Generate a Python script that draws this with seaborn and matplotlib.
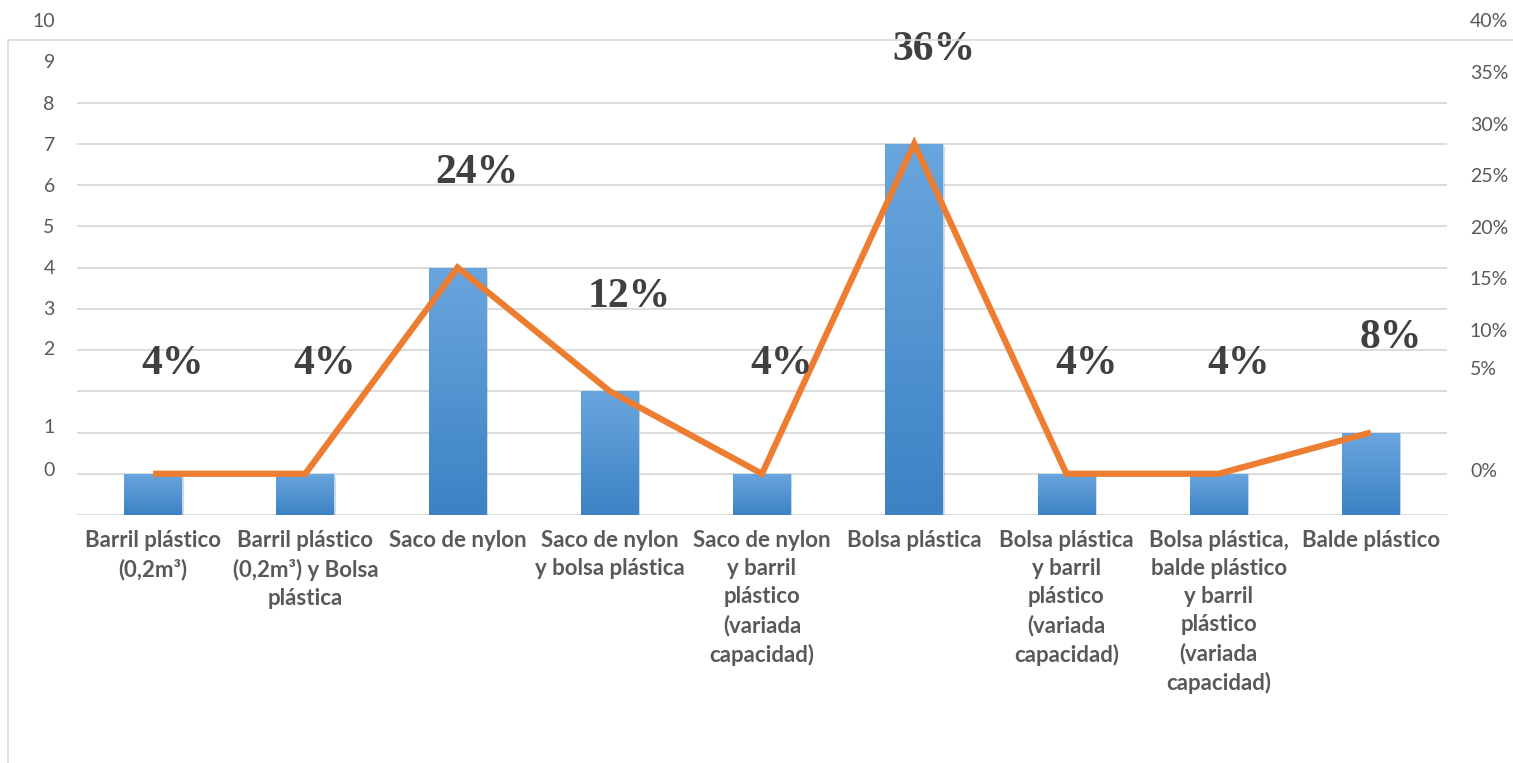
import numpy as np
import pandas as pd
import matplotlib
matplotlib.use("Agg")
import matplotlib.pyplot as plt
from matplotlib.patches import Rectangle
import seaborn as sns

# Chart data
categories = [
    "Barril plástico\n(0,2m³)",
    "Barril plástico\n(0,2m³) y Bolsa\nplástica",
    "Saco de nylon",
    "Saco de nylon\ny bolsa plástica",
    "Saco de nylon\ny barril\nplástico\n(variada\ncapacidad)",
    "Bolsa plástica",
    "Bolsa plástica\ny barril\nplástico\n(variada\ncapacidad)",
    "Bolsa plástica,\nbalde plástico\ny barril\nplástico\n(variada\ncapacidad)",
    "Balde plástico",
]
counts = [1, 1, 6, 3, 1, 9, 1, 1, 2]
pct_labels = ["4%", "4%", "24%", "12%", "4%", "36%", "4%", "4%", "8%"]

# axis tick labels as they appear in the picture
left_tick_pos = [1.12, 2.15, 4.05, 5.02, 6, 7, 8, 9, 10, 11, 12]
left_tick_labels = ["0", "1", "2", "3", "4", "5", "6", "7", "8", "9", "10"]
right_tick_pos = [1.09, 3.57, 4.49, 5.75, 6.99, 8.25, 9.49, 10.75, 11.99]
right_tick_labels = ["0%", "5%", "10%", "15%", "20%", "25%", "30%", "35%", "40%"]

df = pd.DataFrame({"cat": categories, "count": counts})

sns.set_style("white")
plt.rcParams["font.family"] = ["Lato", "DejaVu Sans"]

W, H = 1513, 763
fig = plt.figure(figsize=(W / 100, H / 100), dpi=100)
ax = fig.add_axes([77 / W, (H - 515) / H, (1447 - 77) / W, 495 / H])

grid_col = "#D9D9D9"
text_col = "#595959"

# outer frame
fig.add_artist(Rectangle((8 / W, -0.05), 1.2, (H - 40) / H + 0.05,
                         transform=fig.transFigure, fill=False,
                         edgecolor=grid_col, linewidth=1.2))

# gridlines
for g in range(0, 11):
    ax.axhline(g, color=grid_col, linewidth=1.3, zorder=0)

sns.barplot(data=df, x="cat", y="count", color="#5B9BD5", width=0.38,
            edgecolor="#BDD7EE", linewidth=0.8, ax=ax, zorder=2)

# vertical gradient on bars
grad = np.linspace(0, 1, 256).reshape(-1, 1)
cmap = matplotlib.colors.LinearSegmentedColormap.from_list(
    "bar", ["#6AA6DE", "#3C82C4"])
for p in ax.patches:
    x0, y0 = p.get_x(), p.get_y()
    w, h = p.get_width(), p.get_height()
    # soft shadow under bar
    ax.add_patch(Rectangle((x0 + 0.01, y0 - 0.08), w, h, color="#9A9A9A",
                           alpha=0.35, zorder=1.5, linewidth=0))
    im = ax.imshow(grad, extent=(x0, x0 + w, y0, y0 + h), origin="upper",
                   cmap=cmap, aspect="auto", zorder=2.1)
    im.set_clip_path(p)

sns.lineplot(x=np.arange(len(counts)), y=counts, color="#ED7D31",
             linewidth=4.5, ax=ax, zorder=3, sort=False)
for l in ax.lines[-1:]:
    l.set_solid_joinstyle("miter")
    l.set_solid_capstyle("butt")

# percentage labels
for i, (c, t) in enumerate(zip(counts, pct_labels)):
    ax.text(i + 0.13, max(c + 2.28, 3.65), t, ha="center", va="center",
            fontsize=30, fontweight="bold", color="#404040",
            family=["Liberation Serif", "DejaVu Serif"], zorder=4)

ax.set_xlim(-0.5, len(categories) - 0.5)
ax.set_ylim(0, 12)
ax.set_xlabel("")
ax.set_ylabel("")
ax.set_yticks(left_tick_pos)
ax.set_yticklabels(left_tick_labels)
ax.tick_params(axis="y", length=0, pad=16, labelsize=14, labelcolor=text_col)
ax.tick_params(axis="x", length=0, pad=11, labelsize=16, labelcolor=text_col)
for lab in ax.get_xticklabels():
    lab.set_fontweight("bold")
    lab.set_linespacing(1.41)
    lab.set_va("top")
for s in ax.spines.values():
    s.set_visible(False)

ax2 = ax.twinx()
ax2.set_ylim(0, 12)
ax2.set_yticks(right_tick_pos)
ax2.set_yticklabels(right_tick_labels)
ax2.tick_params(axis="y", length=0, pad=16.5, labelsize=14, labelcolor=text_col)
for s in ax2.spines.values():
    s.set_visible(False)

fig.savefig("out.png", dpi=100)
